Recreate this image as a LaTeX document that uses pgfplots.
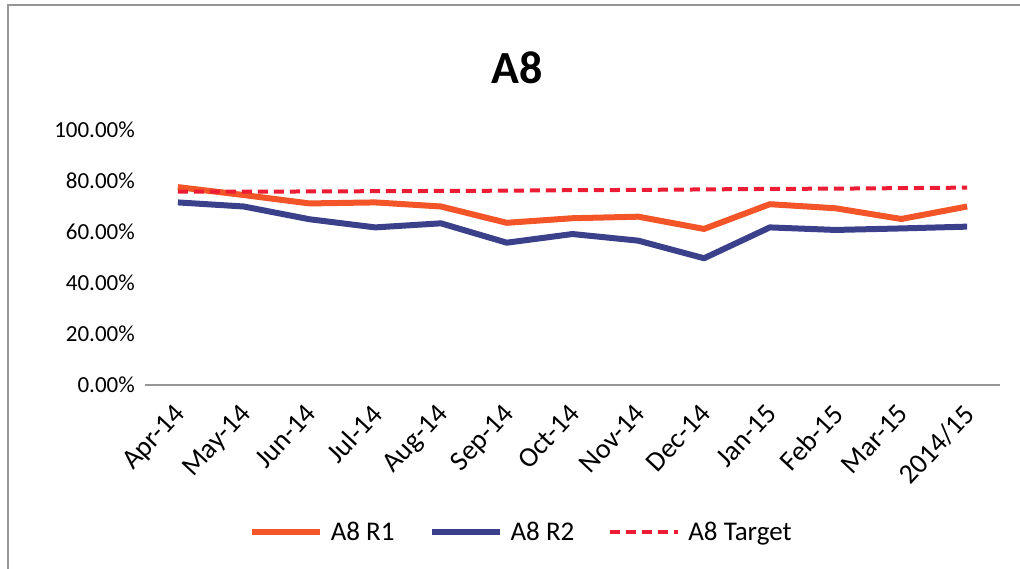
\documentclass[border=0pt]{standalone}
\usepackage{pgfplots}
\pgfplotsset{compat=1.18}
\usepackage{fontspec}
\setmainfont{Carlito}
\definecolor{rone}{RGB}{243,84,40}
\definecolor{rtwo}{RGB}{58,64,138}
\definecolor{tgt}{RGB}{236,28,52}
\definecolor{frame}{RGB}{150,150,150}
\begin{document}
\begin{tikzpicture}[x=1pt,y=1pt]
\useasboundingbox (0,0) rectangle (1020,569);
\draw[frame,line width=1.5pt] (8,0) -- (8,564) -- (1020,564);
\node[font=\fontsize{46}{50}\selectfont\bfseries] at (517,501) {A8};
\begin{axis}[
  at={(145pt,184pt)}, anchor=south west,
  scale only axis, width=855pt, height=255pt,
  xmin=-0.5, xmax=12.5, ymin=0, ymax=100,
  axis x line*=bottom, axis y line*=left,
  x axis line style={draw=frame, line width=1.2pt, -},
  y axis line style={draw=none},
  xtick={0,...,12},
  xticklabels={Apr-14,May-14,Jun-14,Jul-14,Aug-14,Sep-14,Oct-14,Nov-14,Dec-14,Jan-15,Feb-15,Mar-15,2014/15},
  xtick style={draw=none},
  xticklabel style={rotate=47, anchor=north east, font=\fontsize{28}{30}\selectfont, inner sep=0pt, xshift=-16pt, yshift=-8pt},
  ytick={0,20,40,60,80,100},
  yticklabel={\pgfmathprintnumber[fixed,fixed zerofill,precision=2,assume math mode=true]{\tick}\%},
  yticklabel style={font=\fontsize{23}{26}\selectfont, anchor=east, inner sep=0pt, xshift=-10pt},
  ytick style={draw=none},
  /pgf/number format/assume math mode=true,
  clip=false,
  legend style={draw=none, fill=none, at={(0.44,-0.576)}, anchor=center,
    font=\fontsize{27}{29}\selectfont, legend columns=3,
    /tikz/every odd column/.append style={column sep=6pt},
    /tikz/every even column/.append style={column sep=32pt}},
  legend cell align=left,
  legend image code/.code={\draw[#1] (0pt,0pt) -- (68pt,0pt);},
]
\addplot[rone, line width=6pt, line join=round] coordinates {
(0,77.6) (1,74.5) (2,71.2) (3,71.6) (4,70.0) (5,63.6) (6,65.4) (7,66.0) (8,61.2) (9,70.9) (10,69.3) (11,65.1) (12,70.0)};
\addlegendentry{A8 R1}
\addplot[rtwo, line width=6pt, line join=round] coordinates {
(0,71.6) (1,70.0) (2,65.0) (3,61.8) (4,63.4) (5,55.8) (6,59.2) (7,56.6) (8,49.7) (9,61.8) (10,60.8) (11,61.4) (12,62.1)};
\addlegendentry{A8 R2}
\addplot[tgt, line width=4pt, dash pattern=on 10pt off 6pt] coordinates {
(0,75.8) (1,75.8) (2,75.9) (3,76.0) (4,76.1) (5,76.2) (6,76.4) (7,76.5) (8,76.7) (9,76.9) (10,77.0) (11,77.2) (12,77.4)};
\addlegendentry{A8 Target}
\end{axis}
\end{tikzpicture}
\end{document}
